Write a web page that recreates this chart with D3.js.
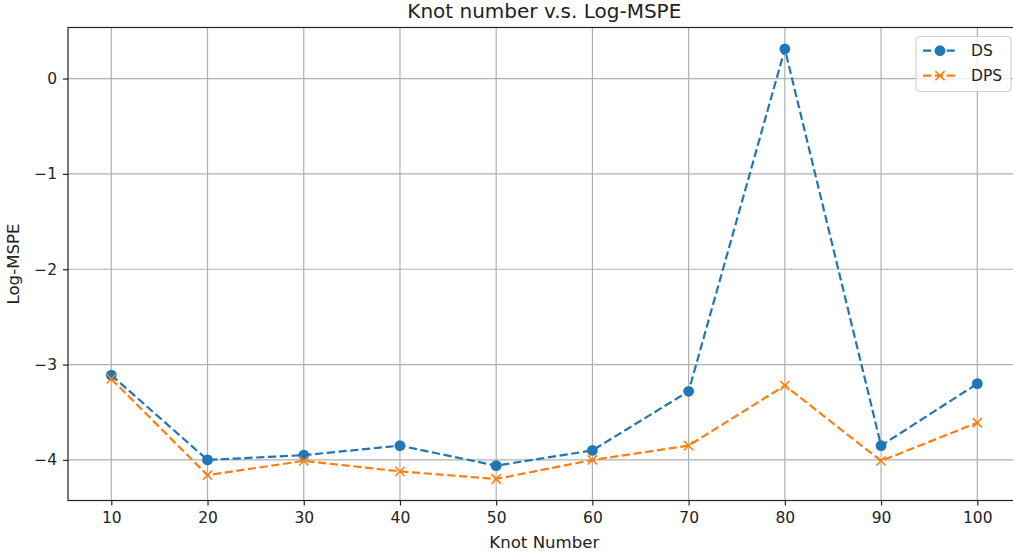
<!DOCTYPE html>
<html><head><meta charset="utf-8">
<script src="https://cdn.jsdelivr.net/npm/d3@7"></script>
<style>body{margin:0;background:#fff}svg{display:block;font-family:"DejaVu Sans",sans-serif}</style>
</head><body><svg id="c" width="1013" height="558"></svg>
<script>
const knots = [10,20,30,40,50,60,70,80,90,100];
const dsValues = [-3.11,-4.00,-3.95,-3.85,-4.06,-3.90,-3.28,0.31,-3.85,-3.20];
const dpsValues = [-3.15,-4.16,-4.01,-4.12,-4.20,-4.00,-3.85,-3.22,-4.01,-3.61];
const xTicks = [10,20,30,40,50,60,70,80,90,100];
const yTicks = [0,-1,-2,-3,-4];
const seriesNames = ["DS","DPS"];
const colors = ["#1f77b4","#ff7f0e"];

const svg = d3.select("#c");
const L = 68, R = 1020.6, T = 27.5, B = 500.5;
const xMin = d3.min(knots), xMax = d3.max(knots), xp = (xMax-xMin)*0.05;
const all = dsValues.concat(dpsValues);
const yMin = d3.min(all), yMax = d3.max(all), yp = (yMax-yMin)*0.05;
const x = d3.scaleLinear().domain([xMin-xp, xMax+xp]).range([L,R]);
const y = d3.scaleLinear().domain([yMin-yp, yMax+yp]).range([B,T]);

const fmt = d => (d<0 ? "\u2212"+Math.abs(d) : String(d));

// grid
const g = svg.append("g");
g.selectAll(".gx").data(xTicks).enter().append("line")
  .attr("x1",d=>x(d)).attr("x2",d=>x(d)).attr("y1",T).attr("y2",B)
  .attr("stroke","#b0b0b0").attr("stroke-width",1.2);
g.selectAll(".gy").data(yTicks).enter().append("line")
  .attr("x1",L).attr("x2",R).attr("y1",d=>y(d)).attr("y2",d=>y(d))
  .attr("stroke","#b0b0b0").attr("stroke-width",1.2);

// axes
const xAxis = d3.axisBottom(x).tickValues(xTicks).tickSize(5).tickPadding(6).tickFormat(fmt);
const yAxis = d3.axisLeft(y).tickValues(yTicks).tickSize(5).tickPadding(6).tickFormat(fmt);
const gx = svg.append("g").attr("transform",`translate(0,${B})`).call(xAxis);
const gy = svg.append("g").attr("transform",`translate(${L},0)`).call(yAxis);
[gx,gy].forEach(a=>{
  a.select(".domain").remove();
  a.selectAll(".tick line").attr("stroke","#222").attr("stroke-width",1.2);
  a.selectAll(".tick text").attr("fill","#222").style("font-size","15.5px").style("font-family","DejaVu Sans");
});
// spines
svg.append("rect").attr("x",L).attr("y",T).attr("width",R-L).attr("height",B-T)
  .attr("fill","none").attr("stroke","#222").attr("stroke-width",1.2);

// lines
const line = d3.line().x((d,i)=>x(knots[i])).y(d=>y(d));
[dsValues,dpsValues].forEach((vals,k)=>{
  svg.append("path").datum(vals).attr("d",line).attr("fill","none")
    .attr("stroke",colors[k]).attr("stroke-width",2.2).attr("stroke-dasharray","8.2,3.6");
});
// markers
svg.append("g").selectAll("circle").data(dsValues).enter().append("circle")
  .attr("cx",(d,i)=>x(knots[i])).attr("cy",d=>y(d)).attr("r",5.4).attr("fill",colors[0]);
const xm = 4.6;
svg.append("g").selectAll("path").data(dpsValues).enter().append("path")
  .attr("d",(d,i)=>{const cx=x(knots[i]),cy=y(d);
    return `M${cx-xm},${cy-xm}L${cx+xm},${cy+xm}M${cx-xm},${cy+xm}L${cx+xm},${cy-xm}`;})
  .attr("stroke",colors[1]).attr("stroke-width",1.6).attr("fill","none");

// title & labels
svg.append("text").attr("x",(L+R)/2).attr("y",17.5).attr("text-anchor","middle")
  .style("font-size","20px").attr("fill","#222").text("Knot number v.s. Log-MSPE");
svg.append("text").attr("x",(L+R)/2).attr("y",548).attr("text-anchor","middle")
  .style("font-size","16.6px").attr("fill","#222").text("Knot Number");
svg.append("text").attr("transform",`translate(18.5,${(T+B)/2}) rotate(-90)`).attr("text-anchor","middle")
  .style("font-size","16.6px").attr("fill","#222").text("Log-MSPE");

// legend
const lg = svg.append("g");
lg.append("rect").attr("x",916).attr("y",36.5).attr("width",95).attr("height",55).attr("rx",4)
  .attr("fill","#fff").attr("fill-opacity",0.8).attr("stroke","#d0d0d0").attr("stroke-width",1.2);
seriesNames.forEach((name,k)=>{
  const cy = 50.7 + k*25;
  lg.append("line").attr("x1",923).attr("x2",957).attr("y1",cy).attr("y2",cy)
    .attr("stroke",colors[k]).attr("stroke-width",2.2).attr("stroke-dasharray","8.2,3.6");
  if(k===0){
    lg.append("circle").attr("cx",940).attr("cy",cy).attr("r",5.4).attr("fill",colors[0]);
  } else {
    lg.append("path").attr("d",`M${940-xm},${cy-xm}L${940+xm},${cy+xm}M${940-xm},${cy+xm}L${940+xm},${cy-xm}`)
      .attr("stroke",colors[1]).attr("stroke-width",1.6);
  }
  lg.append("text").attr("x",971).attr("y",cy).attr("dy","0.35em").style("font-size","15.5px")
    .attr("fill","#222").text(name);
});
</script></body></html>
